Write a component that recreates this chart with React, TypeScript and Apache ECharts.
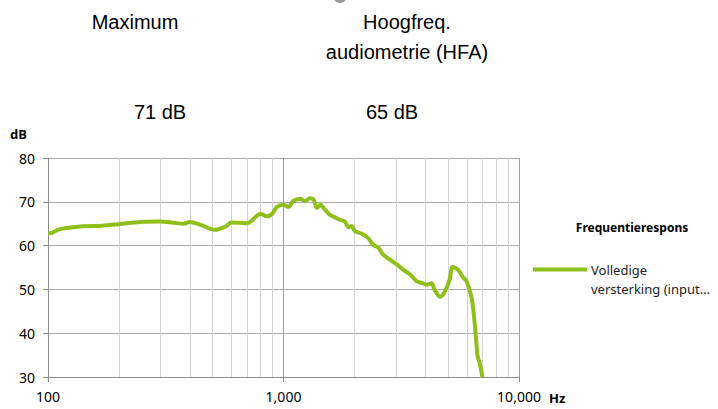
import React, { useEffect, useRef } from "react";
import * as echarts from "echarts";

const freqs = [100, 104, 110, 120, 141, 166, 200, 246, 300, 341, 376, 400, 442, 512, 574, 600, 700, 800, 850, 900, 935, 1000, 1049, 1101, 1180, 1233, 1295, 1343, 1386, 1437, 1500, 1575, 1650, 1731, 1820, 1890, 1940, 2010, 2150, 2290, 2400, 2530, 2640, 2830, 3030, 3220, 3450, 3670, 3860, 4060, 4260, 4370, 4630, 4850, 5080, 5220, 5500, 5800, 5980, 6290, 6500, 6670, 6800, 6990];
const gains = [62.8, 62.9, 63.6, 64.0, 64.4, 64.5, 64.9, 65.4, 65.5, 65.2, 65.0, 65.4, 64.8, 63.6, 64.5, 65.3, 65.1, 67.3, 66.7, 67.4, 68.8, 69.3, 68.8, 70.2, 70.7, 70.1, 70.8, 70.5, 68.6, 69.3, 68.2, 67.0, 66.5, 65.9, 65.5, 64.2, 64.5, 63.3, 62.7, 61.7, 60.2, 59.5, 58.0, 56.8, 55.7, 54.5, 53.4, 51.9, 51.5, 51.1, 51.4, 50.0, 48.3, 49.6, 52.3, 55.1, 54.5, 52.7, 51.9, 48.1, 41.7, 34.8, 33.3, 30.0];
const minorFreqs = [200, 300, 400, 500, 600, 700, 800, 900, 2000, 3000, 4000, 5000, 6000, 7000, 8000, 9000];
const seriesName = "Volledige versterking (input…";
const legendLines = ["Volledige", "versterking (input…"];
const legendTitle = "Frequentierespons";
const headers = [
  { lines: ["Maximum"], value: "71 dB", cx: 135, vx: 160 },
  { lines: ["Hoogfreq.", "audiometrie (HFA)"], value: "65 dB", cx: 407, vx: 392 },
];
const yTicks = { min: 30, max: 80, interval: 10 };
const xRange = { min: 100, max: 10000 };

const fmt = (v: number) => String(Math.round(v)).replace(/\B(?=(\d{3})+(?!\d))/g, ",");

export default function App() {
  const ref = useRef<HTMLDivElement>(null);
  useEffect(() => {
    if (!ref.current) return;
    const chart = echarts.init(ref.current, null, { renderer: "svg" });
    const green = "#8fbf1a";
    const topFont = "'Liberation Sans', Arial, sans-serif";
    const axFont = "'Noto Sans', 'Open Sans', sans-serif";
    const graphics: any[] = [
      { type: "circle", shape: { cx: 340, cy: -4, r: 7 }, style: { fill: "#9a9a9a" } },
    ];
    headers.forEach((h) => {
      h.lines.forEach((l, i) => {
        graphics.push({
          type: "text",
          x: h.cx,
          y: 22 + i * 29.5,
          style: { text: l, font: `20px ${topFont}`, fill: "#000", align: "center", verticalAlign: "middle" },
        });
      });
      graphics.push({
        type: "text",
        x: h.vx,
        y: 112,
        style: { text: h.value, font: `20px ${topFont}`, fill: "#000", align: "center", verticalAlign: "middle" },
      });
    });
    graphics.push(
      { type: "text", x: 10, y: 134, style: { text: "dB", font: `bold 13px ${axFont}`, fill: "#000", verticalAlign: "middle" } },
      { type: "text", x: 549, y: 398, style: { text: "Hz", font: `bold 13px ${axFont}`, fill: "#000", verticalAlign: "middle" } },
      { type: "text", x: 632, y: 227, style: { text: legendTitle, font: `bold 12px ${axFont}`, fill: "#000", align: "center", verticalAlign: "middle" } },
      { type: "line", shape: { x1: 533, y1: 269.5, x2: 587, y2: 269.5 }, style: { stroke: green, lineWidth: 4 } },
      { type: "text", x: 591, y: 270, style: { text: legendLines[0], font: `13px ${axFont}`, fill: "#222", verticalAlign: "middle" } },
      { type: "text", x: 591, y: 289, style: { text: legendLines[1], font: `13px ${axFont}`, fill: "#222", verticalAlign: "middle" } }
    );
    chart.setOption({
      animation: false,
      grid: { left: 48, right: 199, top: 158, bottom: 32 },
      xAxis: {
        type: "log",
        logBase: 10,
        min: xRange.min,
        max: xRange.max,
        axisLine: { show: true, lineStyle: { color: "#8c8c8c" } },
        axisTick: { show: true, length: 5, lineStyle: { color: "#8c8c8c" } },
        axisLabel: { formatter: fmt, fontSize: 14, fontFamily: axFont, color: "#000", margin: 12 },
        splitLine: { show: true, lineStyle: { color: "#9f9f9f", width: 1 } },
      },
      yAxis: {
        type: "value",
        min: yTicks.min,
        max: yTicks.max,
        interval: yTicks.interval,
        axisLine: { show: true, lineStyle: { color: "#8c8c8c" } },
        axisTick: { show: true, length: 5, lineStyle: { color: "#8c8c8c" } },
        axisLabel: { fontSize: 14, fontFamily: axFont, color: "#000", margin: 13 },
        splitLine: { show: true, lineStyle: { color: "#acacac", width: 1 } },
      },
      series: [
        {
          name: seriesName,
          type: "line",
          data: freqs.map((f, i) => [f, gains[i]]),
          showSymbol: false,
          smooth: 0.3,
          lineStyle: { color: green, width: 4 },
          z: 5,
          markLine: {
            silent: true,
            symbol: "none",
            label: { show: false },
            lineStyle: { color: "#d2d2d2", width: 1, type: "solid" },
            data: minorFreqs.map((f) => ({ xAxis: f })),
            z: 1,
          },
        },
      ],
      graphic: graphics,
    });
    return () => chart.dispose();
  }, []);
  return <div ref={ref} style={{ width: 718, height: 409, position: "absolute", left: 0, top: 0, background: "#fff" }} />;
}
